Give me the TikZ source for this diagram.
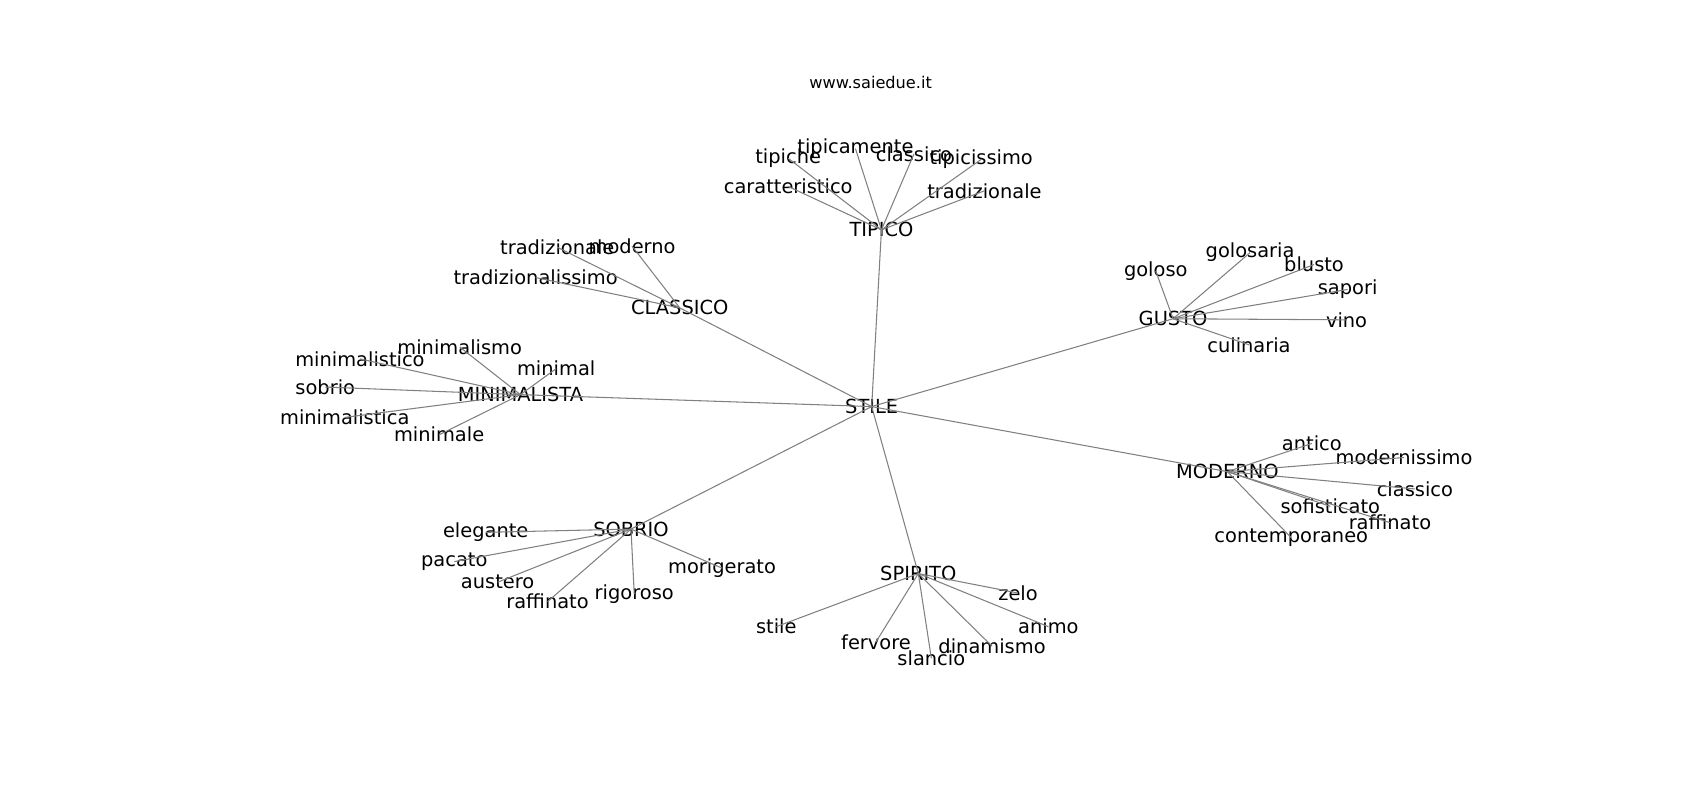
\documentclass[tikz,border=0pt]{standalone}
\usepackage{fontspec}
\setmainfont{DejaVu Sans}
\usetikzlibrary{positioning}

\begin{document}
\begin{tikzpicture}[
        x=0.021684cm, y=-0.021684cm,
        % Estilos para nodos
        word/.style={
                inner sep=0pt,
                text=black,
                font=\fontsize{11.05}{13}\selectfont
            },
        title/.style={
                inner sep=0pt,
                font=\fontsize{9.2}{11}\selectfont
            },
        % Aristas
        edge/.style={
                draw=gray,
                line width=0.6pt
            }
    ]
    \useasboundingbox (0,0) rectangle (1568,738);

    % TITULO
    \node[title] (titulo) at (803,76) {www.saiedue.it};

    % CENTRO
    \node[word] (stile) at (804,375) {STILE};

    % GRUPOS
    \node[word] (tipico) at (813,212) {TIPICO};
    \node[word] (classico) at (627,284) {CLASSICO};
    \node[word] (minimalista) at (480,364) {MINIMALISTA};
    \node[word] (gusto) at (1082,294) {GUSTO};
    \node[word] (moderno) at (1132,435) {MODERNO};
    \node[word] (sobrio) at (582,488) {SOBRIO};
    \node[word] (spirito) at (847,529) {SPIRITO};

    % TIPICO
    \node[word] (tip-tipiche) at (727,146) {tipiche};
    \node[word] (tip-tipicamente) at (789,137) {tipicamente};
    \node[word] (tip-classico) at (843,142) {classico};
    \node[word] (tip-tipicissimo) at (905,147) {tipicissimo};
    \node[word] (tip-caratteristico) at (727,172) {caratteristico};
    \node[word] (tip-tradizionale) at (908,176) {tradizionale};

    % CLASSICO
    \node[word] (cla-tradizionale) at (514,228) {tradizionale};
    \node[word] (cla-moderno) at (583,227) {moderno};
    \node[word] (cla-tradizionalissimo) at (494,256) {tradizionalissimo};

    % MINIMALISTA
    \node[word] (min-minimalismo) at (424,320) {minimalismo};
    \node[word] (min-minimalistico) at (332,331) {minimalistico};
    \node[word] (min-minimal) at (513,340) {minimal};
    \node[word] (min-sobrio) at (300,357) {sobrio};
    \node[word] (min-minimalistica) at (318,385) {minimalistica};
    \node[word] (min-minimale) at (405,401) {minimale};

    % GUSTO
    \node[word] (gus-goloso) at (1066,250) {goloso};
    \node[word] (gus-golosaria) at (1153,233) {golosaria};
    \node[word] (gus-blusto) at (1212,244) {blusto};
    \node[word] (gus-sapori) at (1243,267) {sapori};
    \node[word] (gus-vino) at (1242,295) {vino};
    \node[word] (gus-culinaria) at (1152,318) {culinaria};

    % MODERNO
    \node[word] (mod-antico) at (1210,409) {antico};
    \node[word] (mod-modernissimo) at (1295,422) {modernissimo};
    \node[word] (mod-classico) at (1305,451) {classico};
    \node[word] (mod-sofisticato) at (1227,467) {sofisticato};
    \node[word] (mod-raffinato) at (1282,482) {raffinato};
    \node[word] (mod-contemporaneo) at (1191,496) {contemporaneo};

    % SOBRIO
    \node[word] (sob-elegante) at (448,491) {elegante};
    \node[word] (sob-pacato) at (419,518) {pacato};
    \node[word] (sob-morigerato) at (666,524) {morigerato};
    \node[word] (sob-austero) at (459,537) {austero};
    \node[word] (sob-rigoroso) at (585,548) {rigoroso};
    \node[word] (sob-raffinato) at (505,555) {raffinato};

    % SPIRITO
    \node[word] (spi-zelo) at (939,547) {zelo};
    \node[word] (spi-stile) at (716,578) {stile};
    \node[word] (spi-animo) at (967,578) {animo};
    \node[word] (spi-fervore) at (808,592) {fervore};
    \node[word] (spi-dinamismo) at (915,596) {dinamismo};
    \node[word] (spi-slancio) at (859,607) {slancio};

    % ARISTAS DEL CENTRO
    \draw[edge] (stile.center) -- (tipico.center);
    \draw[edge] (stile.center) -- (classico.center);
    \draw[edge] (stile.center) -- (minimalista.center);
    \draw[edge] (stile.center) -- (gusto.center);
    \draw[edge] (stile.center) -- (moderno.center);
    \draw[edge] (stile.center) -- (sobrio.center);
    \draw[edge] (stile.center) -- (spirito.center);

    % ARISTAS TIPICO
    \draw[edge] (tipico.center) -- (tip-tipiche.center);
    \draw[edge] (tipico.center) -- (tip-tipicamente.center);
    \draw[edge] (tipico.center) -- (tip-classico.center);
    \draw[edge] (tipico.center) -- (tip-tipicissimo.center);
    \draw[edge] (tipico.center) -- (tip-caratteristico.center);
    \draw[edge] (tipico.center) -- (tip-tradizionale.center);

    % ARISTAS CLASSICO
    \draw[edge] (classico.center) -- (cla-tradizionale.center);
    \draw[edge] (classico.center) -- (cla-moderno.center);
    \draw[edge] (classico.center) -- (cla-tradizionalissimo.center);

    % ARISTAS MINIMALISTA
    \draw[edge] (minimalista.center) -- (min-minimalismo.center);
    \draw[edge] (minimalista.center) -- (min-minimalistico.center);
    \draw[edge] (minimalista.center) -- (min-minimal.center);
    \draw[edge] (minimalista.center) -- (min-sobrio.center);
    \draw[edge] (minimalista.center) -- (min-minimalistica.center);
    \draw[edge] (minimalista.center) -- (min-minimale.center);

    % ARISTAS GUSTO
    \draw[edge] (gusto.center) -- (gus-goloso.center);
    \draw[edge] (gusto.center) -- (gus-golosaria.center);
    \draw[edge] (gusto.center) -- (gus-blusto.center);
    \draw[edge] (gusto.center) -- (gus-sapori.center);
    \draw[edge] (gusto.center) -- (gus-vino.center);
    \draw[edge] (gusto.center) -- (gus-culinaria.center);

    % ARISTAS MODERNO
    \draw[edge] (moderno.center) -- (mod-antico.center);
    \draw[edge] (moderno.center) -- (mod-modernissimo.center);
    \draw[edge] (moderno.center) -- (mod-classico.center);
    \draw[edge] (moderno.center) -- (mod-sofisticato.center);
    \draw[edge] (moderno.center) -- (mod-raffinato.center);
    \draw[edge] (moderno.center) -- (mod-contemporaneo.center);

    % ARISTAS SOBRIO
    \draw[edge] (sobrio.center) -- (sob-elegante.center);
    \draw[edge] (sobrio.center) -- (sob-pacato.center);
    \draw[edge] (sobrio.center) -- (sob-morigerato.center);
    \draw[edge] (sobrio.center) -- (sob-austero.center);
    \draw[edge] (sobrio.center) -- (sob-rigoroso.center);
    \draw[edge] (sobrio.center) -- (sob-raffinato.center);

    % ARISTAS SPIRITO
    \draw[edge] (spirito.center) -- (spi-zelo.center);
    \draw[edge] (spirito.center) -- (spi-stile.center);
    \draw[edge] (spirito.center) -- (spi-animo.center);
    \draw[edge] (spirito.center) -- (spi-fervore.center);
    \draw[edge] (spirito.center) -- (spi-dinamismo.center);
    \draw[edge] (spirito.center) -- (spi-slancio.center);

\end{tikzpicture}
\end{document}
